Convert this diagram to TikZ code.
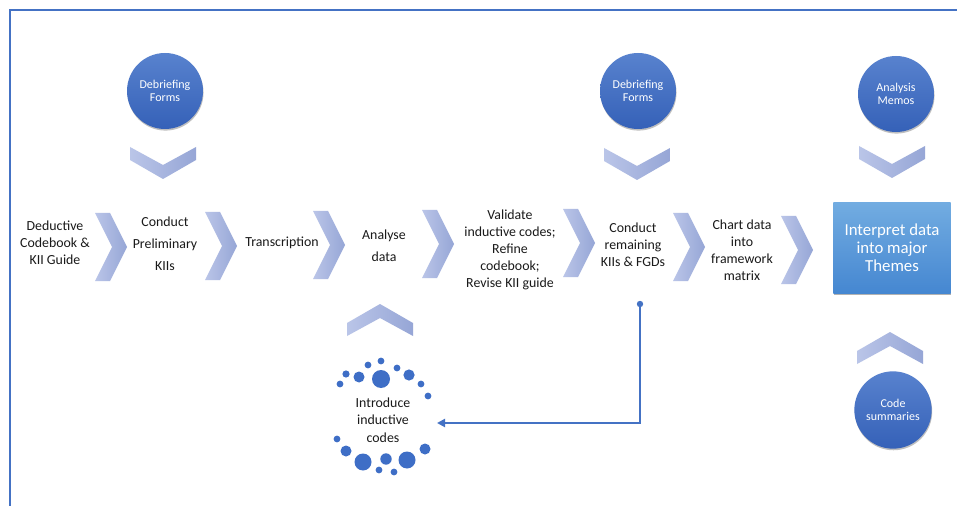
\documentclass[tikz,border=0pt]{standalone}
\usepackage{fontspec}
\setmainfont{Carlito}
\usetikzlibrary{arrows.meta,shadows}
\definecolor{framec}{HTML}{4472C4}
\definecolor{chevA}{HTML}{BAC5E8}
\definecolor{chevB}{HTML}{96A6D6}
\definecolor{circA}{HTML}{5882CE}
\definecolor{circB}{HTML}{3561B8}
\definecolor{boxA}{HTML}{72ACE1}
\definecolor{boxB}{HTML}{4587D1}
\definecolor{dotc}{HTML}{3E6EC6}
\definecolor{txtc}{HTML}{1A1A1A}
\begin{document}
\begin{tikzpicture}[x=0.75pt,y=-0.75pt,
  txt/.style={align=center,font=\fontsize{10.4}{12.8}\selectfont,text=txtc,inner sep=0pt},
  txtwide/.style={txt,font=\fontsize{10.4}{16.5}\selectfont},
  circ/.style={circle,minimum size=57pt,inner sep=0pt,top color=circA,bottom color=circB,
    text=white,align=center,font=\fontsize{9}{10.3}\selectfont,
    drop shadow={shadow xshift=0.4pt,shadow yshift=-1.2pt,opacity=0.25,fill=black}},
  themebox/.style={rectangle,minimum width=88pt,minimum height=67.5pt,inner sep=0pt,
    top color=boxA,bottom color=boxB,text=white,align=center,
    font=\fontsize{12.6}{13.5}\selectfont,
    drop shadow={shadow xshift=0.6pt,shadow yshift=-1.5pt,opacity=0.3,fill=black}},
  hchev/.pic={\shade[left color=chevA,right color=chevB]
     (0,-34) -- (15,-34) -- (32,0) -- (15,34) -- (0,34) -- (17,0) -- cycle;},
  dchev/.pic={\shade[left color=chevA,right color=chevB]
     (-33,-16) -- (0,2) -- (33,-16) -- (33,-3) -- (0,16) -- (-33,-3) -- cycle;},
  uchev/.pic={\shade[left color=chevA,right color=chevB]
     (-33,16) -- (0,-2) -- (33,16) -- (33,3) -- (0,-16) -- (-33,3) -- cycle;},
  link/.style={draw=framec,line width=1.5pt}
]
\useasboundingbox (0,0) rectangle (957,506);
\fill[white] (0,0) rectangle (957,506);
% frame
\draw[framec,line width=1.6pt] (10,506) -- (10,10) -- (957,10);

% horizontal chevrons
\pic at (95,247) {hchev};
\pic at (205,246) {hchev};
\pic at (313,245) {hchev};
\pic at (422,244) {hchev};
\pic at (563,243) {hchev};
\pic at (673,247) {hchev};
\pic at (781,250) {hchev};

% vertical chevrons
\pic at (163,163) {dchev};
\pic at (637,164) {dchev};
\pic at (892,162) {dchev};
\pic at (380,320) {uchev};
\pic at (890,348) {uchev};

% circles
\node[circ] (df1) at (165,91) {Debriefing\\Forms};
\node[circ] (df2) at (638,91) {Debriefing\\Forms};
\node[circ] (memo) at (896,94) {Analysis\\Memos};
\node[circ,minimum size=58pt] (codes) at (893,410) {Code\\summaries};

% step texts
\node[txt] (s1) at (55,243) {Deductive\\Codebook \&\\KII Guide};
\node[txtwide] (s2) at (165,244) {Conduct\\Preliminary\\KIIs};
\node[txt] (s3) at (282,243) {Transcription};
\node[txtwide] (s4) at (384,246) {Analyse\\data};
\node[txt] (s5) at (510,250) {Validate\\inductive codes;\\Refine\\codebook;\\Revise KII guide};
\node[txt] (s6) at (633,245) {Conduct\\remaining\\KIIs \& FGDs};
\node[txt] (s7) at (742,250) {Chart data\\into\\framework\\matrix};
\node[themebox] (s8) at (892,248) {Interpret data\\into major\\Themes};

% inductive codes ring
\node[txt,font=\fontsize{10.4}{13.3}\selectfont] (intro) at (383,420) {Introduce\\inductive\\codes};
\foreach \x/\y/\r in {381/361/3.4, 368/365/3.4, 397/368/3.4, 346/374/3.6, 359/377/5.5,
    381/379/9, 409/375/5.6, 340/384/3.4, 421/384/3.4, 428/396/3.4,
    337/439/3.4, 346/451/5.5, 363/462/8.5, 379/470/3.4, 386/459/5.7, 394/472/3.4,
    407/460/8.5, 425/449/5.5}
  \fill[dotc] (\x,\y) circle[radius=\r];

% feedback connector
\coordinate (cstart) at (640,304);
\coordinate (cend) at (437,423);
\fill[framec] (cstart) circle[radius=3.2];
\draw[link,-{Triangle[length=6pt,width=6pt]}] (cstart) |- (cend);
\end{tikzpicture}
\end{document}
